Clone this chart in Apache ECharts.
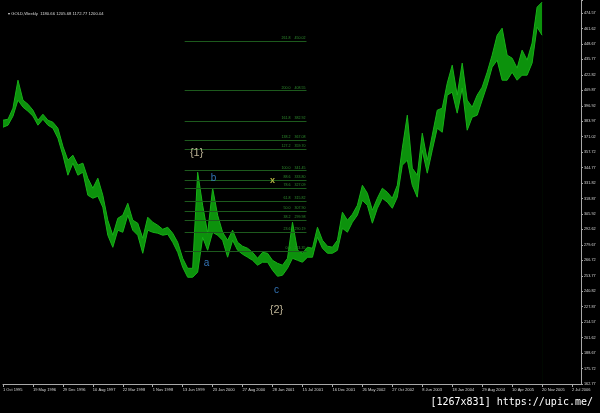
<!DOCTYPE html>
<html>
<head>
<meta charset="utf-8">
<script src="https://cdn.jsdelivr.net/npm/echarts@6/dist/echarts.min.js"></script>
<style>
html,body{margin:0;padding:0;background:#000}
#main{width:600px;height:413px}
</style>
</head>
<body>
<div id="main"></div>
<script>
'use strict'
// GOLD weekly, read roughly one sample per 5 bars (high / low of the band)
var highs = [383.8,384.6,393.9,417.3,400.6,397.2,392.2,383.8,388.8,383.8,382.1,377.1,362.0,350.3,354.5,346.1,347.8,335.2,326.8,335.2,
    320.9,300.0,287.4,301.6,304.2,314.2,300.0,297.5,284.9,302.5,298.3,295.8,292.4,294.1,289.1,281.5,268.1,259.7,259.7,340.2,
    312.5,289.1,326.8,304.2,289.9,283.2,291.6,281.5,278.2,276.5,273.1,268.1,273.1,272.3,266.4,263.9,262.3,268.1,298.3,274.8,
    272.3,277.4,276.5,294.1,283.2,278.2,277.4,283.2,306.7,300.0,305.0,312.5,329.3,322.6,308.4,318.4,326.8,323.4,318.4,329.3,
    360.3,388.0,343.6,337.7,372.9,350.3,371.2,392.2,393.9,414.8,429.9,404.8,431.6,400.6,394.7,404.8,411.5,424.0,438.3,455.0,
    460.9,438.3,435.8,427.4,442.5,434.1,448.4,478.5,482.7]
var lows = [377.9,379.6,387.2,400.6,394.7,391.3,387.2,379.6,384.6,379.6,377.1,368.7,354.5,337.7,347.8,337.7,340.2,320.9,318.4,320.1,
    310.9,287.4,277.3,291.6,289.9,304.2,291.6,287.4,272.3,291.6,289.9,289.1,287.4,288.2,281.5,273.1,260.6,252.2,252.2,256.4,
    285.7,274.8,289.9,287.4,283.2,269.0,283.2,274.8,271.5,269.0,266.4,262.3,264.8,264.8,258.1,253.0,253.9,259.7,268.1,266.4,
    264.8,269.0,269.0,285.7,276.5,272.3,272.3,274.8,293.3,289.9,298.3,304.2,316.7,312.5,297.5,310.0,318.4,315.1,310.0,319.3,
    346.1,350.3,329.3,319.3,358.6,339.4,358.6,377.1,373.7,404.8,407.3,389.7,410.6,375.4,386.3,388.0,400.6,413.1,428.2,434.1,
    417.3,417.3,424.0,417.3,421.5,421.5,431.6,461.7,455.0]

var dateLabels = ['1 Oct 1995','19 May 1996','29 Dec 1996','10 Aug 1997','22 Mar 1998','1 Nov 1998','13 Jun 1999','23 Jan 2000',
    '27 Aug 2000','28 Jan 2001','15 Jul 2001','16 Dec 2001','26 May 2002','27 Oct 2002','8 Jun 2003','18 Jan 2004',
    '29 Aug 2004','10 Apr 2005','20 Nov 2005','2 Jul 2006']
var priceLabels = ['162.77','175.72','188.67','201.62','214.57','227.87','240.82','253.77','266.72','279.67','292.62','305.92',
    '318.87','331.82','344.77','357.72','371.02','383.97','396.92','409.87','422.82','435.77','448.67','461.62','474.57']

// fibonacci levels drawn on the chart
var fibRatios = ['261.8','200.0','161.8','138.2','127.2','100.0','88.6','78.6','61.8','50.0','38.2','23.6','0.0']
var fibPrices = [450.02,408.55,382.92,367.08,359.70,341.45,333.80,327.09,315.82,307.90,299.98,290.19,274.35]
var fibFrom = 36.4, fibTo = 60.8

// wave marks: text, bar index, price
var waveText = ['{1}','b','a','c','{2}','x']
var waveIdx = [38.8,42.2,40.8,54.8,54.8,54.0]
var wavePrice = [356.4,335.4,264.2,241.6,224.8,332.9]

var axisMin = 162.77, axisStep = 12.95

var waveStyle = {
    '{1}': {color:'#e8dcb8', fontSize:11},
    '{2}': {color:'#e8dcb8', fontSize:11},
    'a': {color:'#3f8fe0', fontSize:10},
    'b': {color:'#3f8fe0', fontSize:10},
    'c': {color:'#3f8fe0', fontSize:10},
    'x': {color:'#d8d850', fontSize:9, fontWeight:'bold'}
}

var myChart = echarts.init(document.getElementById('main'))

var lowData = lows.map(function (v, i) { return [i, v] })
var highData = highs.map(function (v, i) { return [i, v] })

var fibLines = fibPrices.map(function (p, i) {
    return [{name: fibRatios[i] + '    ' + p.toFixed(2), coord: [fibFrom, p]}, {coord: [fibTo, p]}]
})

var waveData = waveText.map(function (t, i) {
    var st = waveStyle[t]
    return {
        value: [waveIdx[i], wavePrice[i]],
        label: {show: true, position: 'inside', formatter: t, color: st.color, fontSize: st.fontSize,
            fontWeight: st.fontWeight || 'normal', fontFamily: 'Liberation Sans'}
    }
})

var option = {
    backgroundColor: '#000',
    animation: false,
    title: [
        {text: '\u25BE GOLD,Weekly  1180.66 1205.68 1172.77 1200.04', left: 3, top: 7,
            textStyle: {color: '#d8d8d8', fontSize: 4.2, fontWeight: 'normal', fontFamily: 'Liberation Sans'}},
        {text: '[1267x831] https://upic.me/', right: 2, bottom: 1,
            textStyle: {color: '#ffffff', fontSize: 10, fontWeight: 'normal', fontFamily: 'DejaVu Sans Mono'}}
    ],
    grid: {left: 2, right: 19, top: 0, bottom: 29},
    xAxis: {
        type: 'value',
        min: 0,
        max: 115.8,
        interval: 6,
        z: 10,
        splitLine: {show: false},
        axisLine: {show: true, onZero: false, lineStyle: {color: '#a8a8a8', width: 1}},
        axisTick: {show: true, length: 3, lineStyle: {color: '#a8a8a8'}},
        axisLabel: {
            color: '#d8d8d8', fontSize: 4, fontFamily: 'Liberation Sans', align: 'left', margin: 4,
            showMaxLabel: false,
            formatter: function (v) {
                var j = v / 6
                return Math.abs(j - Math.round(j)) < 1e-6 && dateLabels[Math.round(j)] ? dateLabels[Math.round(j)] : ''
            }
        }
    },
    yAxis: {
        type: 'value',
        position: 'right',
        min: axisMin,
        max: 484.5,
        interval: axisStep,
        z: 10,
        splitLine: {show: false},
        axisLine: {show: true, onZero: false, lineStyle: {color: '#a8a8a8', width: 1}},
        axisTick: {show: true, length: 2, lineStyle: {color: '#a8a8a8'}},
        axisLabel: {
            color: '#d8d8d8', fontSize: 3.8, fontFamily: 'Liberation Sans', margin: 3,
            formatter: function (v) {
                var j = (v - axisMin) / axisStep
                return Math.abs(j - Math.round(j)) < 1e-3 && priceLabels[Math.round(j)] ? priceLabels[Math.round(j)] : ''
            }
        }
    },
    series: [
        {
            // top edge of the band, filled down
            name: 'high',
            type: 'line',
            data: highData,
            symbol: 'none',
            lineStyle: {color: '#17b017', width: 1},
            areaStyle: {color: '#0c920c', opacity: 1, origin: 'start'},
            z: 2
        },
        {
            // bottom edge of the band, black fill below it
            name: 'low',
            type: 'line',
            data: lowData,
            symbol: 'none',
            lineStyle: {color: '#17b017', width: 1},
            areaStyle: {color: '#000', opacity: 1, origin: 'start'},
            z: 3,
            markLine: {
                silent: true,
                symbol: ['none', 'none'],
                lineStyle: {color: '#1d5a1d', width: 1, type: 'solid'},
                label: {show: true, position: 'insideEndTop', formatter: '{b}', color: '#2f8f2f',
                    fontSize: 3.6, fontFamily: 'Liberation Sans', distance: 1},
                data: fibLines
            }
        },
        {
            name: 'waves',
            type: 'scatter',
            data: waveData,
            symbol: 'circle',
            symbolSize: 1,
            itemStyle: {color: 'transparent'},
            z: 5
        }
    ]
}
myChart.setOption(option)
</script>
</body>
</html>
